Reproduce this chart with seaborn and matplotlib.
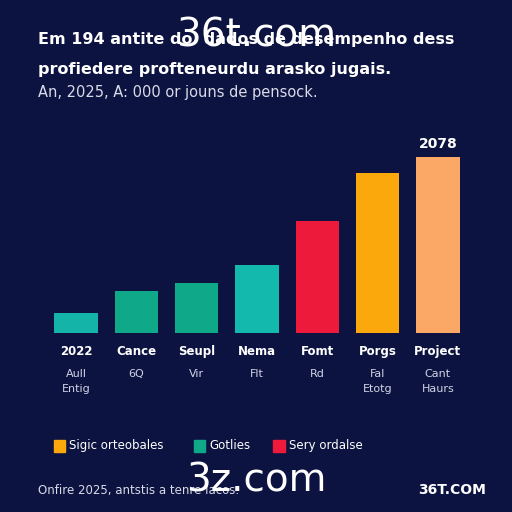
import seaborn as sns
import pandas as pd
import matplotlib.pyplot as plt

categories = ['2022', 'Cance', 'Seupl', 'Nema', 'Fomt', 'Porgs', 'Project']
values = [20, 42, 50, 68, 112, 160, 176]
sublabels = ['Aull\nEntig', '6Q', 'Vir', 'Flt', 'Rd', 'Fal\nEtotg', 'Cant\nHaurs']
bar_colors = ['#14b5a8', '#0fa98a', '#0fa98a', '#14b9ad', '#ee1a3c', '#fba80c', '#fba866']
legend_labels = ['Sigic orteobales', 'Gotlies', 'Sery ordalse']
legend_colors = ['#fba80c', '#0fa98a', '#ee1a3c']

bg = '#0d1340'
sns.set_theme(style='dark')
plt.rcParams['font.family'] = ['DejaVu Sans']

fig = plt.figure(figsize=(5.12, 5.12), dpi=100, facecolor=bg)
ax = fig.add_axes([52 / 512, (512 - 333) / 512, (462 - 52) / 512, 185 / 512])
ax.set_facecolor(bg)

df = pd.DataFrame({'cat': categories, 'val': values})
sns.barplot(data=df, x='cat', y='val', hue='cat', palette=bar_colors,
            legend=False, width=0.72, saturation=1, linewidth=0, ax=ax)
ax.set_ylim(0, 185)
ax.set_xlim(-0.4, 6.4)
ax.axis('off')

ax.text(6, values[-1] + 6, '2078', color='white', ha='center', va='bottom',
        fontsize=10, fontweight='bold')
for i, (c, s) in enumerate(zip(categories, sublabels)):
    ax.text(i, -12, c, color='white', ha='center', va='top', fontsize=8.5,
            fontweight='bold')
    ax.text(i, -36, s, color='#cfd3e6', ha='center', va='top', fontsize=8,
            linespacing=1.6)

fig.text(0.075, 0.915, 'Em 194 antite do  dados de desempenho dess', color='white',
         fontsize=11.5, fontweight='bold')
fig.text(0.075, 0.855, 'profiedere profteneurdu arasko jugais.', color='white',
         fontsize=11.5, fontweight='bold')
fig.text(0.075, 0.81, 'An, 2025, A: 000 or jouns de pensock.', color='#d8dbe8',
         fontsize=10.5)

x = 0.105
for lab, col in zip(legend_labels, legend_colors):
    fig.patches.append(plt.Rectangle((x, 0.118), 0.022, 0.022, color=col,
                                     transform=fig.transFigure))
    fig.text(x + 0.03, 0.129, lab, color='white', fontsize=8.5, va='center')
    x += 0.03 + len(lab) * 0.013 + 0.035

fig.text(0.075, 0.035, 'Onfire 2025, antstis a tenre lacos.', color='#d8dbe8', fontsize=8.5)
fig.text(0.95, 0.035, '36T.COM', color='white', fontsize=10, fontweight='bold', ha='right')

fig.text(0.5, 0.91, '36t.com', color='white', fontsize=28, ha='center')
fig.text(0.5, 0.04, '3z.com', color='white', fontsize=28, ha='center')

fig.savefig('out.png', dpi=100, facecolor=bg)
